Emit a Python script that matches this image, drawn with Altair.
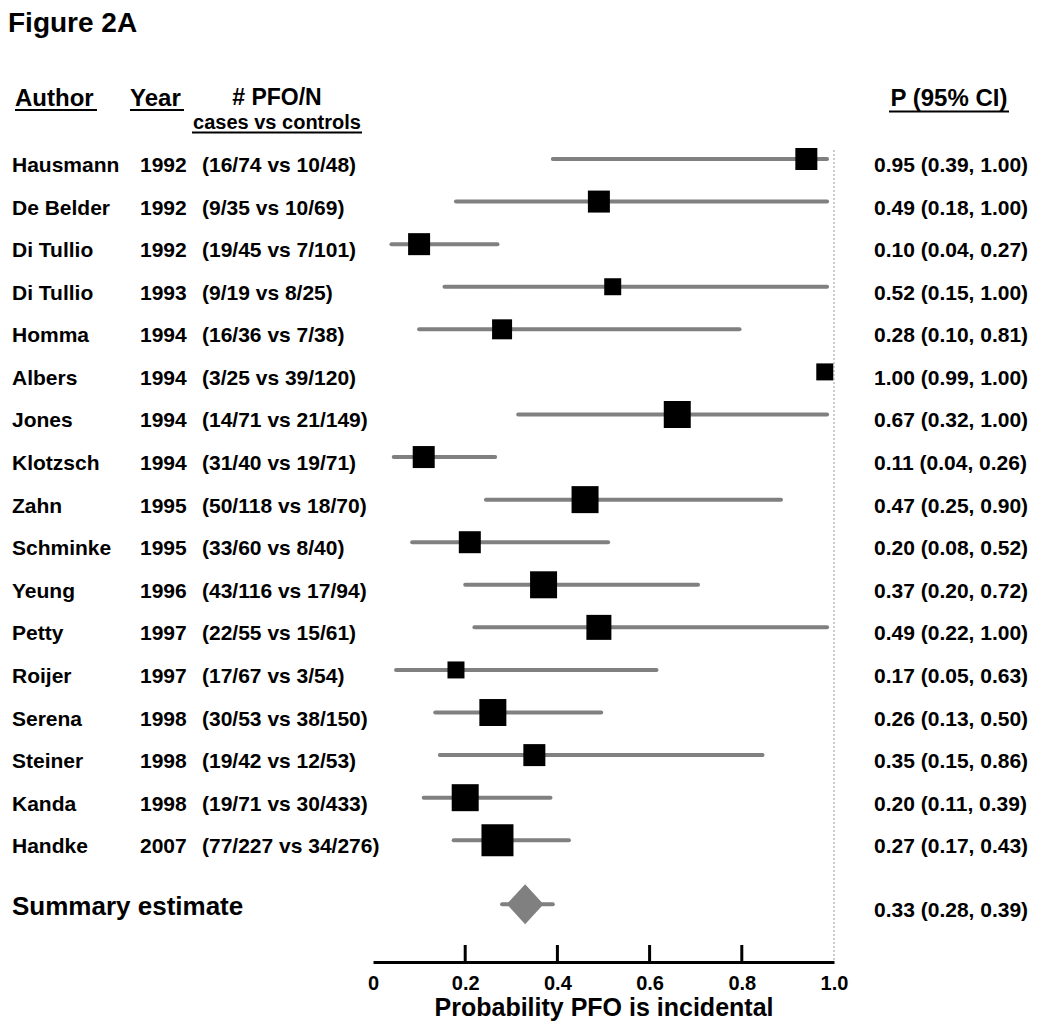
import altair as alt
import pandas as pd

FONT = "Liberation Sans"

# ---- data ----
authors = ["Hausmann", "De Belder", "Di Tullio", "Di Tullio", "Homma", "Albers", "Jones",
           "Klotzsch", "Zahn", "Schminke", "Yeung", "Petty", "Roijer", "Serena",
           "Steiner", "Kanda", "Handke"]
years = ["1992", "1992", "1992", "1993", "1994", "1994", "1994", "1994", "1995", "1995",
         "1996", "1997", "1997", "1998", "1998", "1998", "2007"]
pfo_n = ["(16/74 vs 10/48)", "(9/35 vs 10/69)", "(19/45 vs 7/101)", "(9/19 vs 8/25)",
         "(16/36 vs 7/38)", "(3/25 vs 39/120)", "(14/71 vs 21/149)", "(31/40 vs 19/71)",
         "(50/118 vs 18/70)", "(33/60 vs 8/40)", "(43/116 vs 17/94)", "(22/55 vs 15/61)",
         "(17/67 vs 3/54)", "(30/53 vs 38/150)", "(19/42 vs 12/53)", "(19/71 vs 30/433)",
         "(77/227 vs 34/276)"]
p_ci_text = ["0.95 (0.39, 1.00)", "0.49 (0.18, 1.00)", "0.10 (0.04, 0.27)", "0.52 (0.15, 1.00)",
             "0.28 (0.10, 0.81)", "1.00 (0.99, 1.00)", "0.67 (0.32, 1.00)", "0.11 (0.04, 0.26)",
             "0.47 (0.25, 0.90)", "0.20 (0.08, 0.52)", "0.37 (0.20, 0.72)", "0.49 (0.22, 1.00)",
             "0.17 (0.05, 0.63)", "0.26 (0.13, 0.50)", "0.35 (0.15, 0.86)", "0.20 (0.11, 0.39)",
             "0.27 (0.17, 0.43)"]
# positions as drawn in the figure
estimate = [0.94, 0.49, 0.10, 0.52, 0.28, 0.98, 0.66, 0.11, 0.46, 0.21, 0.37, 0.49,
            0.18, 0.26, 0.35, 0.20, 0.27]
ci_low = [0.39, 0.18, 0.04, 0.155, 0.10, 0.99, 0.315, 0.045, 0.245, 0.085, 0.20, 0.22,
          0.05, 0.135, 0.145, 0.11, 0.175]
ci_high = [0.985, 0.985, 0.27, 0.985, 0.795, 0.99, 0.985, 0.265, 0.885, 0.51, 0.705, 0.985,
           0.615, 0.495, 0.845, 0.385, 0.425]
# relative study weight (box side)
box_weight = [22, 22, 22, 17, 20, 17, 27, 22, 27, 22, 27, 25, 17, 27, 22, 27, 32]

summary_label = "Summary estimate"
summary_est, summary_lo, summary_hi = 0.33, 0.28, 0.39
summary_text = "0.33 (0.28, 0.39)"

tick_values = [0.2, 0.4, 0.6, 0.8]

# ---- tables ----
studies = pd.DataFrame({
    "row": list(range(len(authors))),
    "author": authors, "year": years, "pfo": pfo_n, "ptext": p_ci_text,
    "est": estimate, "lo": ci_low, "hi": ci_high,
})
studies["area"] = [w * w for w in box_weight]

SUMMARY_ROW = 17.5
summary = pd.DataFrame({"row": [SUMMARY_ROW], "label": [summary_label], "est": [summary_est],
                        "lo": [summary_lo], "hi": [summary_hi], "ptext": [summary_text]})

H = 824
TICK_PX = 17
Y_TOP, Y_BOT = -0.4932, 18.859
yscale = alt.Scale(domain=[Y_TOP, Y_BOT], reverse=True, nice=False, zero=False)
xscale = alt.Scale(domain=[0, 1], nice=False, zero=False)
xaxis = alt.Axis(values=[0, 0.2, 0.4, 0.6, 0.8, 1.0],
                 labelExpr="datum.value == 0 ? '0' : format(datum.value, '.1f')",
                 ticks=False, tickSize=0, grid=False, domainColor="black", domainWidth=3,
                 labelFontSize=20, labelFontWeight="bold", labelColor="black", labelFont=FONT,
                 labelPadding=11, labelOverlap=False, labelFlush=False,
                 title="Probability PFO is incidental", titleFontSize=25, titleFontWeight="bold",
                 titleColor="black", titleFont=FONT, titlePadding=2, zindex=0)

def X(field, axis=xaxis):
    return alt.X(field, type="quantitative", scale=xscale, axis=axis)

def Y(field="row"):
    return alt.Y(field, type="quantitative", scale=yscale, axis=None)

GRAY = "#808080"

ci = alt.Chart(studies).mark_rule(color=GRAY, strokeWidth=4, strokeCap="round").encode(
    x=X("lo"), x2="hi", y=Y())
boxes = alt.Chart(studies).mark_square(color="black", opacity=1, filled=True).encode(
    x=X("est"), y=Y(), size=alt.Size("area:Q", scale=None))

sum_ci = alt.Chart(summary).mark_rule(color=GRAY, strokeWidth=4, strokeCap="round").encode(
    x=X("lo"), x2="hi", y=Y())
sum_diamond = alt.Chart(summary).mark_point(
    shape="M-0.92,0L0,-1L0.92,0L0,1Z", filled=True, color=GRAY, opacity=1, size=1600
).encode(x=X("est"), y=Y())

ref_df = pd.DataFrame({"v": [1.0], "r1": [-0.21], "r2": [Y_BOT]})
ref_line = alt.Chart(ref_df).mark_rule(
    color="#999999", strokeWidth=1, strokeDash=[2, 2]).encode(
    x=X("v"), y=Y("r1"), y2="r2:Q")

# upward ticks standing on the axis line (x through the scale, from the plot bottom up)
tick_df = pd.DataFrame({"tv": tick_values})
ticks = alt.Chart(tick_df).mark_rule(color="black", strokeWidth=3, opacity=1).encode(
    x=X("tv"), y=alt.value(H - TICK_PX), y2=alt.value(H))

def col_text(df, field, xpx, size=21, align="left", dy=13):
    return alt.Chart(df).mark_text(align=align, baseline="alphabetic", fontSize=size,
                                   fontWeight="bold", color="black", font=FONT, dy=dy).encode(
        x=alt.value(xpx), y=Y(), text=f"{field}:N")

def label(text, xpx, row, size, align="left"):
    return alt.Chart(pd.DataFrame({"t": [text], "row": [row]})).mark_text(
        align=align, baseline="alphabetic", fontSize=size, fontWeight="bold",
        color="black", font=FONT).encode(x=alt.value(xpx), y=Y(), text="t:N")

def underline(x1, x2, row):
    return alt.Chart(pd.DataFrame({"row": [row]})).mark_rule(color="black", strokeWidth=2).encode(
        x=alt.value(x1), x2=alt.value(x2), y=Y())

chart = alt.layer(
    ref_line, ci, boxes, sum_ci, sum_diamond,
    col_text(studies, "author", -361),
    col_text(studies, "year", -233),
    col_text(studies, "pfo", -171),
    col_text(studies, "ptext", 501),
    col_text(summary, "label", -361, size=26, dy=11),
    col_text(summary, "ptext", 501),
    label("Figure 2A", -365, -2.99, 28),
    label("Author", -358, -1.24, 24),
    label("Year", -243, -1.24, 24),
    label("# PFO/N", -96, -1.27, 23, align="center"),
    label("cases vs controls", -96, -0.70, 20, align="center"),
    label("P (95% CI)", 576, -1.24, 24, align="center"),
    underline(-358, -276, -1.151),
    underline(-243, -189, -1.151),
    underline(-181, -11, -0.622),
    underline(516, 636, -1.116),
    ticks,
).properties(
    width=461, height=H,
    autosize=alt.AutoSizeParams(type="none"),
    padding={"left": 365, "top": 130, "right": 207, "bottom": 60},
).configure(font=FONT).configure_view(stroke=None)

chart.save("out.html", embed_options={"renderer": "svg", "actions": False})
